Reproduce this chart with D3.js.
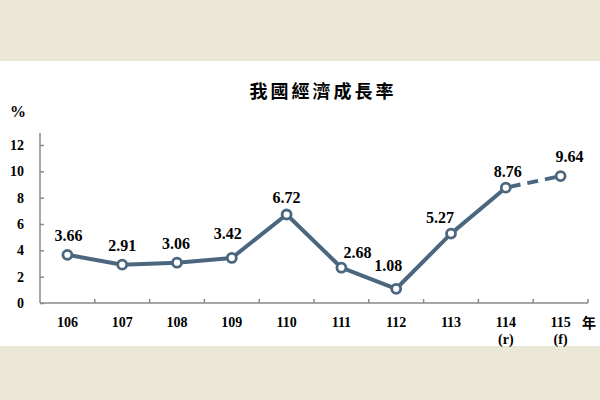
<!DOCTYPE html>
<html>
<head>
<meta charset="utf-8">
<script src="https://cdn.jsdelivr.net/npm/d3@7"></script>
<style>
  body { margin: 0; background: #ebe8d8; }
  svg { display: block; }
</style>
</head>
<body>
<div id="chart"></div>
<script>
// 我國經濟成長率 data
var years = ["106", "107", "108", "109", "110", "111", "112", "113", "114", "115"];
var notes = ["", "", "", "", "", "", "", "", "(r)", "(f)"];
var growth = [3.66, 2.91, 3.06, 3.42, 6.72, 2.68, 1.08, 5.27, 8.76, 9.64];
var yTicks = [0, 2, 4, 6, 8, 10, 12];
// label offsets (dx, dy) relative to each point
var labelDx = [1, 0, -1, -4, 0, 16, -8, -11, 2, 9];
var labelDy = [-14, -14, -14, -19, -12, -10, -18, -11, -11, -14];

var width = 600, height = 400;
var lineColor = "#4b6780";
var serif = "'Liberation Serif', 'DejaVu Serif', serif";

var svg = d3.select("#chart").append("svg")
  .attr("width", width).attr("height", height);

svg.append("rect").attr("x", 0).attr("y", 61).attr("width", width).attr("height", 285)
  .attr("fill", "#ffffff");

var x = d3.scaleBand().domain(years).range([40, 588]);
var y = d3.scaleLinear().domain([0, 12]).range([303, 145]);

// title
svg.append("text")
  .attr("x", 323).attr("y", 98)
  .attr("text-anchor", "middle")
  .style("font-family", "'Noto Sans CJK TC', sans-serif")
  .style("font-weight", "bold")
  .style("font-size", "18px")
  .style("letter-spacing", "3px")
  .text("我國經濟成長率");

svg.append("text")
  .attr("x", 18).attr("y", 117)
  .attr("text-anchor", "middle")
  .style("font-family", serif)
  .style("font-weight", "bold")
  .style("font-size", "16px")
  .text("%");

// y axis
var yAxis = svg.append("g").attr("transform", "translate(40,0)")
  .call(d3.axisRight(y).tickValues(yTicks).tickSize(4).tickFormat(""));
yAxis.select(".domain").attr("d", "M0,133V303");
yAxis.selectAll("path, line").attr("stroke", "#8a8a8a").attr("stroke-width", 1.5);

svg.selectAll(".ylab").data(yTicks).enter().append("text")
  .attr("class", "ylab")
  .attr("x", 24).attr("y", function(d) { return y(d) + 5; })
  .attr("text-anchor", "end")
  .style("font-family", serif)
  .style("font-weight", "bold")
  .style("font-size", "14px")
  .text(function(d) { return d; });

// x axis with ticks between categories
var xAxis = svg.append("g").attr("transform", "translate(0,303)");
xAxis.append("path")
  .attr("d", "M40,0H" + x.range()[1])
  .attr("stroke", "#8a8a8a").attr("stroke-width", 1.5).attr("fill", "none");
xAxis.selectAll("line").data(years).enter().append("line")
  .attr("x1", function(d) { return x(d) + x.bandwidth(); })
  .attr("x2", function(d) { return x(d) + x.bandwidth(); })
  .attr("y1", 0).attr("y2", -4)
  .attr("stroke", "#8a8a8a").attr("stroke-width", 1.5);

svg.selectAll(".xlab").data(years).enter().append("text")
  .attr("class", "xlab")
  .attr("x", function(d) { return x(d) + x.bandwidth() / 2; })
  .attr("y", 327)
  .attr("text-anchor", "middle")
  .style("font-family", serif)
  .style("font-weight", "bold")
  .style("font-size", "14px")
  .text(function(d) { return d; });

svg.selectAll(".xnote").data(years).enter().append("text")
  .attr("class", "xnote")
  .attr("x", function(d) { return x(d) + x.bandwidth() / 2; })
  .attr("y", 344)
  .attr("text-anchor", "middle")
  .style("font-family", serif)
  .style("font-weight", "bold")
  .style("font-size", "14px")
  .text(function(d, i) { return notes[i]; });

svg.append("text")
  .attr("x", 589).attr("y", 328)
  .attr("text-anchor", "middle")
  .style("font-family", "'Noto Sans CJK TC', sans-serif")
  .style("font-weight", "bold")
  .style("font-size", "14px")
  .text("年");

// line
var pts = years.map(function(d, i) { return [x(d) + x.bandwidth() / 2, y(growth[i])]; });
var line = d3.line();

svg.append("path")
  .attr("d", line(pts.slice(0, 9)))
  .attr("fill", "none").attr("stroke", lineColor)
  .attr("stroke-width", 4).attr("stroke-linejoin", "round");

svg.append("path")
  .attr("d", line(pts.slice(8)))
  .attr("fill", "none").attr("stroke", lineColor)
  .attr("stroke-width", 4).attr("stroke-dasharray", "11,7")
  .attr("stroke-dashoffset", -4);

svg.selectAll(".dot").data(pts).enter().append("circle")
  .attr("class", "dot")
  .attr("cx", function(d) { return d[0]; })
  .attr("cy", function(d) { return d[1]; })
  .attr("r", 4.5)
  .attr("fill", "#ffffff")
  .attr("stroke", lineColor)
  .attr("stroke-width", 2.8);

svg.selectAll(".val").data(pts).enter().append("text")
  .attr("class", "val")
  .attr("x", function(d, i) { return d[0] + labelDx[i]; })
  .attr("y", function(d, i) { return d[1] + labelDy[i]; })
  .attr("text-anchor", "middle")
  .style("font-family", serif)
  .style("font-weight", "bold")
  .style("font-size", "16px")
  .text(function(d, i) { return growth[i].toFixed(2); });
</script>
</body>
</html>
